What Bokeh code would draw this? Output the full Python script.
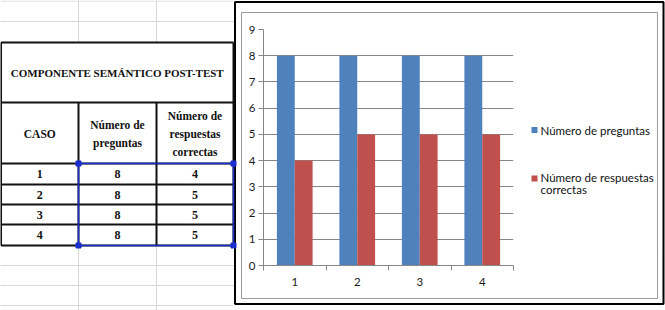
from bokeh.plotting import figure
from bokeh.models import Range1d, FixedTicker, ColumnDataSource
from bokeh.transform import dodge
from bokeh.core.properties import value
from bokeh.embed import file_html
from bokeh.resources import INLINE

# ---------------- data ----------------
casos = [1, 2, 3, 4]
caso_labels = ["1", "2", "3", "4"]
preguntas = [8, 8, 8, 8]
correctas = [4, 5, 5, 5]
series = ["Número de preguntas", "Número de respuestas correctas"]
legend_labels = ["Número de preguntas", "Número de respuestas\ncorrectas"]
colors = ["#4F81BD", "#C0504D"]
y_ticks = [0, 1, 2, 3, 4, 5, 6, 7, 8, 9]
table_title = "COMPONENTE SEMÁNTICO POST-TEST"
table_headers = ["CASO", "Número de\npreguntas", "Número de\nrespuestas\ncorrectas"]

SERIF = "Liberation Serif"
SANS = "Lato"
W, H = 665, 310
CX = 234                              # left edge of the chart object (page px)
FL, FR, FT, FB = 263, 513, 29, 265    # plot-area edges in page pixels (layout)

# ================= background page: spreadsheet table, chart frame, legend =================
bg = figure(width=W, height=H, x_range=Range1d(0, W), y_range=Range1d(H, 0),
            x_axis_type=None, y_axis_type=None, output_backend="svg",
            toolbar_location=None, min_border=0)
bg.grid.visible = False
bg.outline_line_color = None
bg.background_fill_color = "white"
bg.border_fill_color = "white"
bg.styles = {"position": "absolute", "left": "0px", "top": "0px"}

col_x = [0.5, 78, 156, 233]
row_y = [42, 102, 163, 184, 204, 224, 245]
light_rows = [0.5, 21, 265, 285, 305]
light = "#d6d6d6"
ink = "#111111"

# chart object: white area, black selection outline, light chart-area border
bg.quad(left=[CX], right=[W], top=[0], bottom=[H], fill_color="white", line_color=None)
bg.quad(left=[241], right=[657], top=[12], bottom=[298],
        fill_color="white", line_color="#9a9a9a", line_width=1)
bg.quad(left=[CX + 0.5], right=[W - 2], top=[1.5], bottom=[303.5],
        fill_alpha=0, line_color="black", line_width=2)

# light spreadsheet grid
bg.segment(x0=[0] * len(light_rows), x1=[col_x[3]] * len(light_rows), y0=light_rows, y1=light_rows,
           line_color=light, line_width=1)
bg.segment(x0=[col_x[1], col_x[2], col_x[1], col_x[2]], x1=[col_x[1], col_x[2], col_x[1], col_x[2]],
           y0=[0, 0, row_y[-1], row_y[-1]], y1=[row_y[0], row_y[0], H, H],
           line_color=light, line_width=1)
# table borders
bg.segment(x0=[col_x[0]] * len(row_y), x1=[col_x[3]] * len(row_y), y0=row_y, y1=row_y,
           line_color=ink, line_width=2)
bg.segment(x0=[col_x[0], col_x[3]], x1=[col_x[0], col_x[3]], y0=[row_y[0]] * 2, y1=[row_y[-1]] * 2,
           line_color=ink, line_width=2)
bg.segment(x0=[col_x[1], col_x[2]], x1=[col_x[1], col_x[2]], y0=[row_y[1]] * 2, y1=[row_y[-1]] * 2,
           line_color=ink, line_width=2)
# selection of the data range
sel = "#1a2fd0"
bg.quad(left=[col_x[1]], right=[col_x[3]], top=[row_y[2]], bottom=[row_y[-1]],
        fill_alpha=0, line_color=sel, line_width=1.5)
bg.scatter(x=[col_x[1], col_x[3], col_x[1], col_x[3]], y=[row_y[2], row_y[2], row_y[-1], row_y[-1]],
           marker="square", size=5, color=sel)

centers = [(col_x[i] + col_x[i + 1]) / 2 for i in range(3)]
bg.text(x=[(col_x[0] + col_x[3]) / 2], y=[(row_y[0] + row_y[1]) / 2], text=[table_title],
        text_font=value(SERIF), text_font_style="bold", text_font_size="11px",
        text_align="center", text_baseline="middle", text_color=ink)
bg.text(x=centers, y=[(row_y[1] + row_y[2]) / 2 + 1] * 3, text=table_headers,
        text_font=value(SERIF), text_font_style="bold", text_font_size="11.5px",
        text_align="center", text_baseline="middle", text_color=ink, text_line_height=1.52)
row_c = [(row_y[i] + row_y[i + 1]) / 2 for i in range(2, 6)]
for ci, vals in enumerate([caso_labels, [str(v) for v in preguntas], [str(v) for v in correctas]]):
    bg.text(x=[centers[ci]] * len(vals), y=row_c, text=vals,
            text_font=value(SERIF), text_font_style="bold", text_font_size="12px",
            text_align="center", text_baseline="middle", text_color=ink)

# legend
leg_x = 531
leg_sq_y = [129.5, 178]
leg_txt_y = [130, 183]
bg.quad(left=[leg_x] * 2, right=[leg_x + 6] * 2, top=[y - 3 for y in leg_sq_y],
        bottom=[y + 3 for y in leg_sq_y], fill_color=colors, line_color=None)
bg.text(x=[leg_x + 9] * 2, y=leg_txt_y, text=legend_labels, text_font=value(SANS),
        text_font_size="11.5px", text_color=ink, text_align="left", text_baseline="middle",
        text_line_height=0.92)

# ================= chart (on top, transparent) =================
p = figure(width=W - CX, height=H, x_range=Range1d(0.5, 4.5), y_range=Range1d(0, 9),
           output_backend="svg", toolbar_location=None,
           min_border_left=FL - CX, min_border_right=W - FR, min_border_top=FT, min_border_bottom=H - FB)
p.outline_line_color = None
p.background_fill_color = None
p.border_fill_color = None
p.styles = {"position": "absolute", "left": f"{CX}px", "top": "0px"}

src = ColumnDataSource(dict(caso=casos, preguntas=preguntas, correctas=correctas))
bw = 1 / 3.5
p.vbar(x=dodge("caso", -bw / 2, range=p.x_range), top="preguntas", width=bw,
       source=src, fill_color=colors[0], line_color=None)
p.vbar(x=dodge("caso", bw / 2, range=p.x_range), top="correctas", width=bw,
       source=src, fill_color=colors[1], line_color=None)

grey = "#868686"
p.xaxis.ticker = FixedTicker(ticks=casos, minor_ticks=[c - 0.5 for c in casos] + [casos[-1] + 0.5])
p.xaxis.major_label_overrides = {c: l for c, l in zip(casos, caso_labels)}
p.xaxis.major_tick_out = 0
p.xaxis.major_tick_in = 0
p.xaxis.minor_tick_out = 5
p.xaxis.minor_tick_in = 0
p.xaxis.minor_tick_line_color = grey
p.xaxis.major_label_standoff = 7
p.yaxis.ticker = FixedTicker(ticks=y_ticks)
p.yaxis.major_tick_out = 5
p.yaxis.major_tick_in = 0
p.yaxis.minor_tick_line_color = None
p.yaxis.major_tick_line_color = grey
p.yaxis.major_label_standoff = 3
for ax in (p.xaxis, p.yaxis):
    ax.axis_line_color = grey
    ax.major_label_text_font = SANS
    ax.major_label_text_font_size = "11.5px"
    ax.major_label_text_color = "#1a1a1a"
p.xgrid.visible = False
p.ygrid.ticker = FixedTicker(ticks=y_ticks)
p.ygrid.grid_line_color = grey

open("out.html", "w").write(file_html([bg, p], INLINE))
